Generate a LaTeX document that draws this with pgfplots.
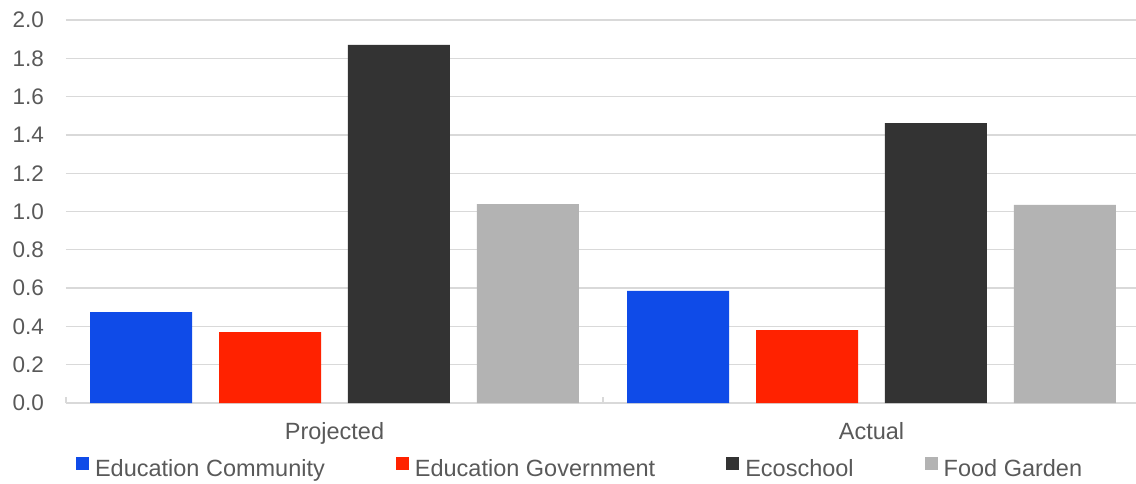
\documentclass[border=0pt]{standalone}
\usepackage{fontspec}
\setmainfont{Liberation Sans}
\usepackage{pgfplots}
\pgfplotsset{compat=1.18}
\definecolor{cBlue}{HTML}{0F4BE8}
\definecolor{cRed}{HTML}{FF2200}
\definecolor{cDark}{HTML}{333333}
\definecolor{cGray}{HTML}{B3B3B3}
\definecolor{cGrid}{HTML}{D9D9D9}
\definecolor{cText}{HTML}{595959}
\begin{document}
\begin{tikzpicture}
\begin{axis}[
  at={(0pt,0pt)}, anchor=south west,
  scale only axis,
  width=1070pt, height=383pt,
  ybar,
  xmin=-0.5, xmax=1.4926,
  ymin=0, ymax=2.0,
  ytick={0,0.2,...,2.01},
  /pgf/number format/fixed,
  /pgf/number format/fixed zerofill,
  /pgf/number format/precision=1,
  /pgf/number format/assume math mode=true,
  yticklabel style={inner sep=0pt, xshift=-22pt, text=cText, font=\fontsize{22.5}{26}\selectfont},
  ymajorgrids,
  grid style={color=cGrid, line width=1.3pt},
  axis line style={draw=none},
  xtick={-0.5,0.5},
  xticklabels={},
  xtick pos=bottom,
  tick align=inside,
  xtick style={color=cGrid, line width=1.3pt},
  major tick length=6pt,
  ytick style={draw=none},
  extra x ticks={0,1},
  extra x tick labels={Projected,Actual},
  extra x tick style={major tick length=0pt, xticklabel style={inner sep=0pt, yshift=-19pt, anchor=north, text=cText, font=\fontsize{23.5}{27}\selectfont}},
  bar width=0.19,
  legend style={draw=none, fill=none, at={(0.48,0)}, anchor=center, yshift=-65pt,
    legend columns=4, font=\fontsize{23.5}{27}\selectfont, text=cText,
    /tikz/every even column/.append style={column sep=70pt},
    /tikz/every odd column/.append style={column sep=5pt},
    nodes={inner sep=1pt}},
  legend image code/.code={\fill[#1] (0pt,-1pt) rectangle (13pt,12pt);},
]
\addplot[fill=cBlue, draw=none, bar shift=-0.36] coordinates {(0,0.475) (1,0.585)};
\addplot[fill=cRed, draw=none, bar shift=-0.12] coordinates {(0,0.37) (1,0.381)};
\addplot[fill=cDark, draw=none, bar shift=0.12] coordinates {(0,1.87) (1,1.462)};
\addplot[fill=cGray, draw=none, bar shift=0.36] coordinates {(0,1.039) (1,1.034)};
\legend{Education Community,Education Government,Ecoschool,Food Garden}
\end{axis}
\pgfresetboundingbox
\path[use as bounding box] (-66pt,-80pt) rectangle (1070pt,403pt);
\end{tikzpicture}
\end{document}
